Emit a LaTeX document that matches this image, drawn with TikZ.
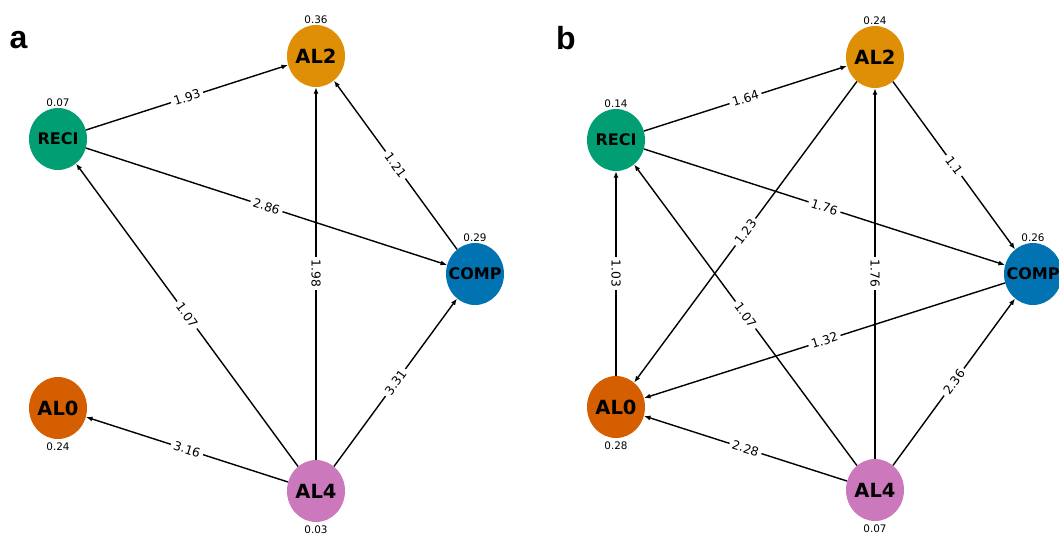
\documentclass[tikz,border=0pt]{standalone}
\usepackage{fontspec}
\setmainfont{DejaVu Sans}
\newfontfamily\panelfont{Liberation Sans}
\usetikzlibrary{arrows.meta,shapes.geometric}
\begin{document}
\begin{tikzpicture}[x=1pt, y=-1pt,
  nd/.style = {ellipse, minimum width = 58pt, minimum height = 62pt, inner sep = 0pt, text = black, font = \bfseries\fontsize{19.5}{20}\selectfont,
    execute at begin node = {\hbox to 0pt\bgroup\hss}, execute at end node = {\hss\egroup}},
  sm/.style = {font = \bfseries\fontsize{16}{17}\selectfont},
  val/.style = {font = \fontsize{10.4}{11}\selectfont, inner sep = 1pt},
  edge/.style = {-{Latex[length = 6.5pt, width = 5pt]}, line width = 1.4pt},
  wt/.style = {sloped, fill = white, inner sep = 3pt, font = \fontsize{12.3}{12}\selectfont},
  panel/.style = {font = \panelfont\bfseries\fontsize{32}{32}\selectfont}]
\useasboundingbox (0,0) rectangle (1059,539);
\definecolor{compcol}{HTML}{0173B2}
\definecolor{al2col}{HTML}{DE8F05}
\definecolor{recicol}{HTML}{029E73}
\definecolor{al0col}{HTML}{D55E00}
\definecolor{al4col}{HTML}{CC78BC}
\node[panel] (TagA) at (18.5,40) {a};
\node[nd, fill = al2col, label = {[val]above:0.36}] (AL2a) at (316,56) {AL2};
\node[nd, sm, fill = recicol, label = {[val]above:0.07}] (RECIa) at (58,139) {RECI};
\node[nd, sm, fill = compcol, label = {[val]above:0.29}] (COMPa) at (475,274) {COMP};
\node[nd, fill = al0col, label = {[val, label distance = 2pt]below:0.24}] (AL0a) at (58,408) {AL0};
\node[nd, fill = al4col, label = {[val, label distance = 2pt]below:0.03}] (AL4a) at (316,491) {AL4};
\draw[edge] (RECIa) -- node[wt] {1.93} (AL2a);
\draw[edge] (RECIa) -- node[wt] {2.86} (COMPa);
\draw[edge] (COMPa) -- node[wt] {1.21} (AL2a);
\draw[edge] (AL4a) -- node[wt, rotate = 180] {1.98} (AL2a);
\draw[edge] (AL4a) -- node[wt] {1.07} (RECIa);
\draw[edge] (AL4a) -- node[wt] {3.31} (COMPa);
\draw[edge] (AL4a) -- node[wt] {3.16} (AL0a);
\node[panel] (TagB) at (566,38) {b};
\node[nd, fill = al2col, label = {[val]above:0.24}] (AL2b) at (875,57) {AL2};
\node[nd, sm, fill = recicol, label = {[val]above:0.14}] (RECIb) at (616,140) {RECI};
\node[nd, sm, fill = compcol, label = {[val]above:0.26}] (COMPb) at (1033,274) {COMP};
\node[nd, fill = al0col, label = {[val, label distance = 2pt]below:0.28}] (AL0b) at (616,407) {AL0};
\node[nd, fill = al4col, label = {[val, label distance = 2pt]below:0.07}] (AL4b) at (875,490) {AL4};
\draw[edge] (RECIb) -- node[wt] {1.64} (AL2b);
\draw[edge] (RECIb) -- node[wt] {1.76} (COMPb);
\draw[edge] (AL2b) -- node[wt] {1.1} (COMPb);
\draw[edge] (AL2b) -- node[wt] {1.23} (AL0b);
\draw[edge] (AL4b) -- node[wt, rotate = 180] {1.76} (AL2b);
\draw[edge] (AL0b) -- node[wt, rotate = 180] {1.03} (RECIb);
\draw[edge] (AL4b) -- node[wt] {1.07} (RECIb);
\draw[edge] (COMPb) -- node[wt] {1.32} (AL0b);
\draw[edge] (AL4b) -- node[wt] {2.36} (COMPb);
\draw[edge] (AL4b) -- node[wt] {2.28} (AL0b);
\end{tikzpicture}
\end{document}
